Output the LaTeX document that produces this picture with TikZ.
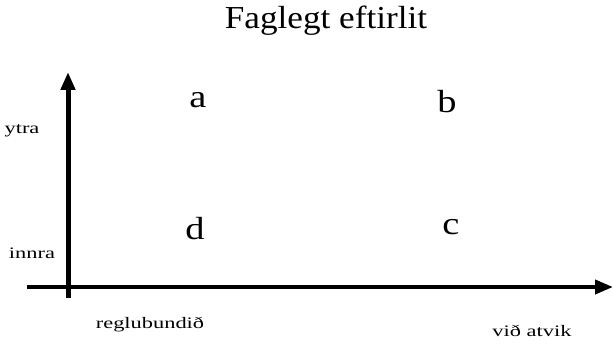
\documentclass[tikz,border=0pt]{standalone}
\usepackage{fontspec}
\setmainfont{Liberation Serif}
\usetikzlibrary{arrows.meta}
\begin{document}
\begin{tikzpicture}[x=1pt,y=1pt,
  axis/.style={line width=#1, -{Triangle[length=18pt,width=14pt]}},
  small/.style={inner sep=0pt, font=\fontsize{16}{18}\selectfont},
  big/.style={inner sep=0pt, font=\fontsize{32}{36}\selectfont},
  title/.style={inner sep=0pt, font=\fontsize{32}{36}\selectfont}]
\useasboundingbox[fill=white] (0,0) rectangle (613,344);
% axes
\coordinate (vb) at (68,46);
\coordinate (vt) at (68,272);
\coordinate (hl) at (27,57);
\coordinate (hr) at (613,57);
\draw[axis=5pt] (vb) -- (vt);
\draw[axis=4pt] (hl) -- (hr);
% title
\node[title] (t) at (326,323) {\scalebox{1.1}[1]{Faglegt eftirlit}};
% quadrant letters
\node[big] (a) at (198,244) {\scalebox{1.2}[1]{a}};
\node[big] (b) at (447,242) {\scalebox{1.2}[1]{b}};
\node[big] (d) at (195,115) {\scalebox{1.2}[1]{d}};
\node[big] (c) at (451,117) {\scalebox{1.2}[1]{c}};
% axis labels
\node[small] (ytra) at (22,213) {\scalebox{1.4}[1]{ytra}};
\node[small] (innra) at (32,91) {\scalebox{1.4}[1]{innra}};
\node[small] (regl) at (150,19) {\scalebox{1.4}[1]{reglubundið}};
\node[small] (vid) at (532,13) {\scalebox{1.4}[1]{við atvik}};
\end{tikzpicture}
\end{document}
